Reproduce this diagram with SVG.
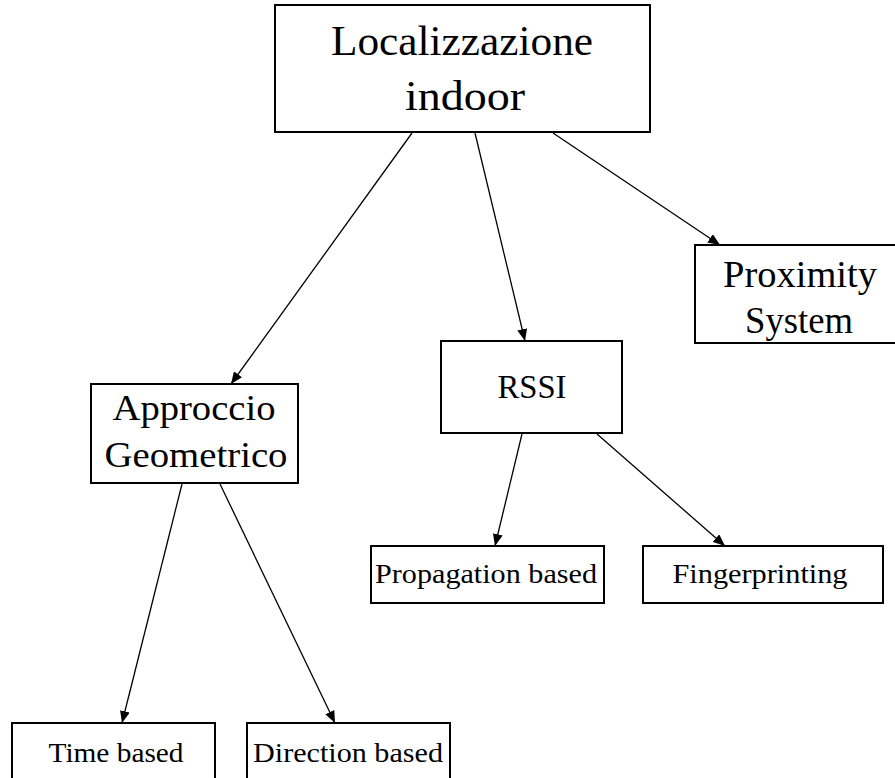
<svg xmlns="http://www.w3.org/2000/svg" width="895" height="778" viewBox="0 0 895 778">
<style>
.box{fill:#fff;stroke:#000;stroke-width:2}
.lbl{font-family:"Liberation Serif","Times New Roman",serif;fill:#000;text-anchor:middle}
.edge{stroke:#000;stroke-width:1.3;fill:none;marker-end:url(#ah)}
</style>
<defs>
<marker id="ah" viewBox="0 0 12 10" refX="12" refY="5" markerWidth="12" markerHeight="10" markerUnits="userSpaceOnUse" orient="auto">
<path d="M0,0 L12,5 L0,10 Z" fill="#000"/>
</marker>
</defs>
<rect width="895" height="778" fill="#fff"/>
<g id="connectors">
<line class="edge" x1="412" y1="133" x2="231" y2="384"/>
<line class="edge" x1="475" y1="133" x2="525" y2="341"/>
<line class="edge" x1="553" y1="133" x2="720" y2="245"/>
<line class="edge" x1="182" y1="484" x2="122" y2="723"/>
<line class="edge" x1="220" y1="484" x2="335" y2="723"/>
<line class="edge" x1="522" y1="434" x2="495" y2="546"/>
<line class="edge" x1="597" y1="434" x2="725" y2="546"/>
</g>
<g id="n-localizzazione">
<rect class="box" x="275" y="5" width="375" height="127"/>
<text class="lbl" x="462" y="55" font-size="42" textLength="262" lengthAdjust="spacingAndGlyphs">Localizzazione</text>
<text class="lbl" x="465" y="110" font-size="42" textLength="120" lengthAdjust="spacingAndGlyphs">indoor</text>
</g>
<g id="n-proximity">
<rect class="box" x="695" y="245" width="215" height="98"/>
<text class="lbl" x="800" y="287" font-size="37" textLength="154" lengthAdjust="spacingAndGlyphs">Proximity</text>
<text class="lbl" x="799" y="333" font-size="37" textLength="108" lengthAdjust="spacingAndGlyphs">System</text>
</g>
<g id="n-approccio">
<rect class="box" x="91" y="384" width="207" height="99"/>
<text class="lbl" x="194" y="420" font-size="36" textLength="163" lengthAdjust="spacingAndGlyphs">Approccio</text>
<text class="lbl" x="196" y="467" font-size="36" textLength="183" lengthAdjust="spacingAndGlyphs">Geometrico</text>
</g>
<g id="n-rssi">
<rect class="box" x="441" y="341" width="181" height="92"/>
<text class="lbl" x="532" y="398" font-size="33" textLength="69" lengthAdjust="spacingAndGlyphs">RSSI</text>
</g>
<g id="n-propagation">
<rect class="box" x="371" y="546" width="233" height="57"/>
<text class="lbl" x="486" y="583" font-size="28" textLength="222" lengthAdjust="spacingAndGlyphs">Propagation based</text>
</g>
<g id="n-fingerprinting">
<rect class="box" x="643" y="546" width="240" height="57"/>
<text class="lbl" x="760" y="583" font-size="28" textLength="175" lengthAdjust="spacingAndGlyphs">Fingerprinting</text>
</g>
<g id="n-time">
<rect class="box" x="12" y="723" width="203" height="70"/>
<text class="lbl" x="116" y="762" font-size="28" textLength="135" lengthAdjust="spacingAndGlyphs">Time based</text>
</g>
<g id="n-direction">
<rect class="box" x="247" y="723" width="203" height="70"/>
<text class="lbl" x="348" y="762" font-size="28" textLength="190" lengthAdjust="spacingAndGlyphs">Direction based</text>
</g>
</svg>
